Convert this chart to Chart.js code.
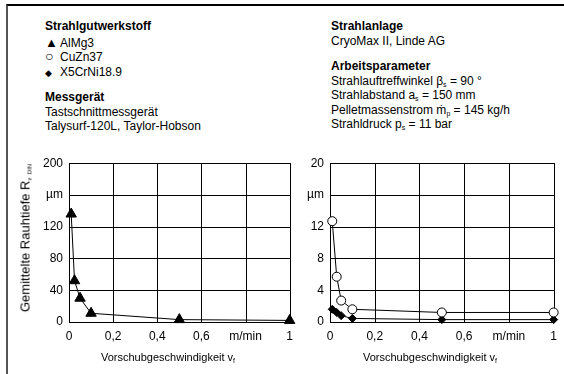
<!DOCTYPE html>
<html>
<head>
<meta charset="utf-8">
<script src="https://cdn.jsdelivr.net/npm/chart.js@4/dist/chart.umd.min.js"></script>
<style>
  body { margin: 0; background: #fff; font-family: "Liberation Sans", Arial, sans-serif; color: #000; }
  #page { position: relative; width: 564px; height: 374px; overflow: hidden; }
  #frame { position: absolute; left: 6px; top: 4px; width: 560px; height: 372px;
           border-left: 2px solid #555; border-top: 2px solid #000; }
  .txt { position: absolute; font-size: 12px; line-height: 14.5px; white-space: nowrap; }
  .txt b { font-weight: bold; }
  .sym { display: inline-block; width: 15px; text-align: left; line-height: 10px; }
  sub { font-size: 7px; vertical-align: -2px; line-height: 0; }
  canvas { position: absolute; }
  .ytitle { position: absolute; font-size: 13px; white-space: nowrap;
            transform: translate(-50%, -50%) rotate(-90deg); }
  .xtitle { position: absolute; font-size: 11px; white-space: nowrap; transform: translateX(-50%); }
</style>
</head>
<body>
<div id="page">
  <div id="frame"></div>

  <div class="txt" style="left:45px; top:19px;">
    <b>Strahlgutwerkstoff</b><br>
    <span style="display:block;height:2px"></span>
    <span class="sym" style="font-size:13px">&#9650;</span>AlMg3<br>
    <span class="sym" style="font-size:14px">&#9675;</span>CuZn37<br>
    <span class="sym" style="font-size:9px">&#9670;</span>X5CrNi18.9<br>
    <span style="display:block;height:11px"></span>
    <b>Messgerät</b><br>
    Tastschnittmessgerät<br>
    Talysurf-120L, Taylor-Hobson
  </div>

  <div class="txt" style="left:331px; top:19px;">
    <b>Strahlanlage</b><br>
    CryoMax II, Linde AG<br>
    <span style="display:block;height:11px"></span>
    <b>Arbeitsparameter</b><br>
    Strahlauftreffwinkel &beta;<sub>s</sub> = 90 °<br>
    Strahlabstand a<sub>s</sub> = 150 mm<br>
    Pelletmassenstrom &#7745;<sub>p</sub> = 145 kg/h<br>
    Strahldruck p<sub>s</sub> = 11 bar
  </div>

  <canvas id="left" width="300" height="224" style="left:0px; top:150px; width:300px; height:224px;"></canvas>
  <canvas id="right" width="282" height="224" style="left:282px; top:150px; width:282px; height:224px;"></canvas>

  <div class="ytitle" style="left:25px; top:238px;">Gemittelte Rauhtiefe R<sub style="font-size:6px">z&nbsp;&nbsp;DIN</sub></div>
  <div class="xtitle" style="left:168px; top:351px;">Vorschubgeschwindigkeit v<sub>f</sub></div>
  <div class="xtitle" style="left:430px; top:351px;">Vorschubgeschwindigkeit v<sub>f</sub></div>
</div>

<script>
// feed rate in m/min
const feed = [0.01, 0.025, 0.05, 0.1, 0.5, 1]
const feed2 = [0.01, 0.03, 0.05, 0.1, 0.5, 1]

// roughness Rz in µm
const alMg3 = [136, 52, 30, 11, 3, 2]
const cuZn37 = [12.7, 5.7, 2.7, 1.6, 1.2, 1.2]
const x5CrNi = [1.6, 1.2, 0.8, 0.45, 0.3, 0.3]

// tick labels
const xTicks = ['0', '0,2', '0,4', '0,6', 'm/min', '1']
const yTicksLeft = ['0', '40', '80', '120', 'µm', '200']
const yTicksRight = ['0', '4', '8', '12', 'µm', '20']

Chart.defaults.font.family = '"Liberation Sans", Arial, sans-serif'
Chart.defaults.font.size = 12
Chart.defaults.color = '#000'

// the built-in grid did not show up here, so draw it from the scale ticks
const gridLines = {
  id: 'gridLines',
  beforeDatasetsDraw: function (chart) {
    var ctx = chart.ctx
    var a = chart.chartArea
    var x = chart.scales.x
    var y = chart.scales.y
    ctx.save()
    ctx.strokeStyle = '#000'
    ctx.lineWidth = 1
    ctx.beginPath()
    x.ticks.forEach(function (t) {
      var px = Math.round(x.getPixelForValue(t.value)) + 0.5
      ctx.moveTo(px, a.top)
      ctx.lineTo(px, a.bottom)
    })
    y.ticks.forEach(function (t) {
      var py = Math.round(y.getPixelForValue(t.value)) + 0.5
      ctx.moveTo(a.left, py)
      ctx.lineTo(a.right + 1, py)
    })
    ctx.stroke()
    ctx.restore()
  }
}

function pts(xs, ys) {
  return xs.map(function (x, i) { return { x: x, y: ys[i] } })
}

function makeChart(id, datasets, yMax, yLabels, pad) {
  var ctx = document.getElementById(id).getContext('2d')
  return new Chart(ctx, {
    type: 'scatter',
    data: { datasets: datasets },
    plugins: [gridLines],
    options: {
      responsive: false,
      animation: false,
      layout: { padding: pad },
      plugins: { legend: { display: false }, tooltip: { enabled: false } },
      scales: {
        x: {
          type: 'linear', min: 0, max: 1,
          ticks: {
            stepSize: 0.2, padding: 7, maxRotation: 0,
            callback: function (v) { return xTicks[Math.round(v * 5)] }
          },
          grid: { display: false, drawTicks: false },
          border: { display: false },
          afterFit: function (s) { s.height = 24 }
        },
        y: {
          type: 'linear', min: 0, max: yMax,
          ticks: {
            stepSize: yMax / 5, padding: 6,
            callback: function (v) { return yLabels[Math.round(v / (yMax / 5))] }
          },
          grid: { display: false, drawTicks: false },
          border: { display: false },
          afterFit: function (s) { s.width = 30 }
        }
      }
    }
  })
}

makeChart('left', [{
  data: pts(feed, alMg3),
  showLine: true, borderColor: '#000', borderWidth: 1,
  pointStyle: 'triangle', pointRadius: 6, backgroundColor: '#000', pointBorderColor: '#000',
  clip: false
}], 200, yTicksLeft, { left: 39, top: 12, right: 7, bottom: 28 })

makeChart('right', [{
  data: pts(feed2, cuZn37),
  showLine: true, borderColor: '#000', borderWidth: 1,
  pointStyle: 'circle', pointRadius: 4.5, backgroundColor: '#fff', pointBorderColor: '#000', pointBorderWidth: 1,
  clip: false
}, {
  data: pts(feed2, x5CrNi),
  showLine: true, borderColor: '#000', borderWidth: 1,
  pointStyle: 'rectRot', pointRadius: 4, backgroundColor: '#000', pointBorderColor: '#000',
  clip: false
}], 20, yTicksRight, { left: 18, top: 12, right: 9, bottom: 28 })
</script>
</body>
</html>
